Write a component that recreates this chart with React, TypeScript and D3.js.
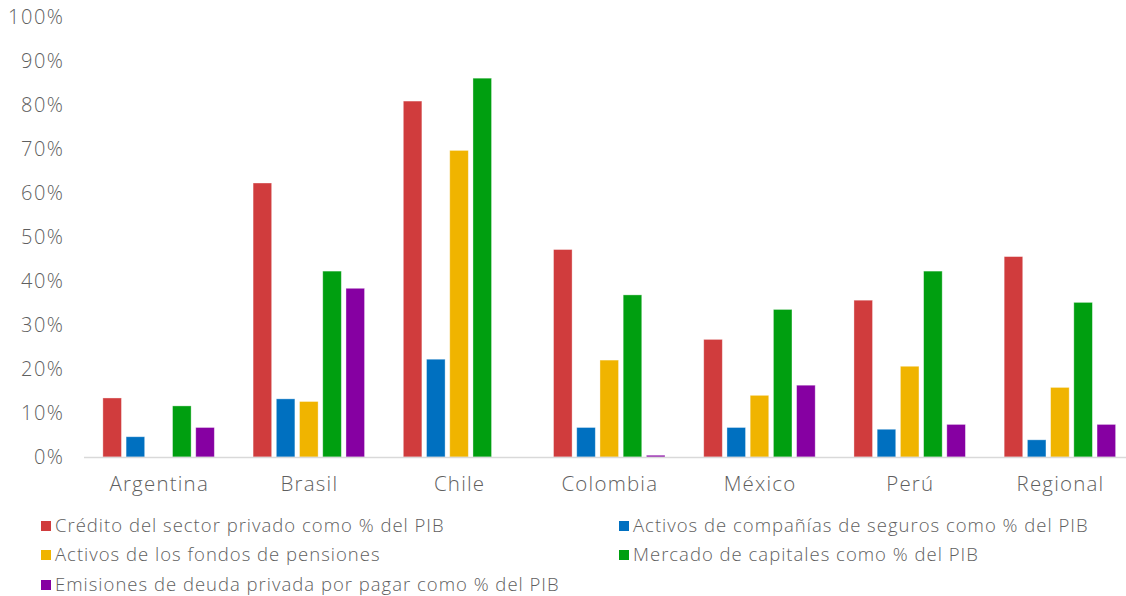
import React from "react";
import * as d3 from "d3";

const categories = ["Argentina", "Brasil", "Chile", "Colombia", "México", "Perú", "Regional"];
const seriesNames = [
  "Crédito del sector privado como % del PIB",
  "Activos de compañías de seguros como % del PIB",
  "Activos de los fondos de pensiones",
  "Mercado de capitales como % del PIB",
  "Emisiones de deuda privada por pagar como % del PIB",
];
const seriesColors = ["#d03c3d", "#0070c0", "#f0b400", "#009f10", "#8600a2"];
const credito = [13.4, 62.2, 80.8, 47.1, 26.7, 35.6, 45.5];
const seguros = [4.6, 13.2, 22.2, 6.7, 6.7, 6.3, 3.9];
const pensiones = [0, 12.6, 69.6, 22.0, 14.0, 20.6, 15.8];
const capitales = [11.6, 42.2, 86.0, 36.8, 33.5, 42.2, 35.1];
const emisiones = [6.7, 38.3, 0, 0.4, 16.3, 7.4, 7.4];
const seriesValues = [credito, seguros, pensiones, capitales, emisiones];
const yTicks = [0, 10, 20, 30, 40, 50, 60, 70, 80, 90, 100];

const W = 1126;
const H = 596;
const FONT = "'Open Sans', Lato, sans-serif";
const TEXT = "#5f5f5f";

export default function App() {
  const x0 = d3
    .scaleBand<string>()
    .domain(categories)
    .range([83.5, 1135])
    .paddingInner(0.258)
    .paddingOuter(0.129);
  const x1 = d3
    .scaleBand<number>()
    .domain(d3.range(seriesNames.length))
    .range([0, x0.bandwidth()])
    .paddingInner(0.2);
  const y = d3.scaleLinear().domain([0, 100]).range([457, 16.5]);

  const legendPos = [
    { x: 41, y: 526 },
    { x: 619, y: 526 },
    { x: 41, y: 555 },
    { x: 619, y: 555 },
    { x: 41, y: 585 },
  ];

  return (
    <svg
      width={W}
      height={H}
      style={{ position: "absolute", left: 0, top: 0, background: "#fff" }}
      fontFamily={FONT}
      fontWeight={300}
    >
      {yTicks.map((t) => (
        <text
          key={t}
          x={64.5}
          y={y(t)}
          dy="0.35em"
          textAnchor="end"
          fontSize={20}
          letterSpacing={1.5}
          fill={TEXT}
        >
          {t}%
        </text>
      ))}
      {categories.map((c, ci) => (
        <g key={c} transform={`translate(${x0(c)},0)`}>
          {seriesValues.map((vals, si) =>
            vals[ci] > 0 ? (
              <rect
                key={si}
                x={x1(si)}
                y={y(vals[ci])}
                width={x1.bandwidth()}
                height={y(0) - y(vals[ci])}
                fill={seriesColors[si]}
                stroke="#ffffff"
                strokeOpacity={0.45}
                strokeWidth={0.8}
              />
            ) : null
          )}
          <text
            x={x0.bandwidth() / 2 + 0.6}
            y={491}
            textAnchor="middle"
            fontSize={20.5}
            letterSpacing={1.2}
            fill={TEXT}
          >
            {c}
          </text>
        </g>
      ))}
      <line x1={84} x2={W} y1={y(0) + 0.5} y2={y(0) + 0.5} stroke="#d9d9d9" strokeWidth={1.5} />
      {seriesNames.map((n, i) => (
        <g key={n} transform={`translate(${legendPos[i].x},${legendPos[i].y})`}>
          <rect x={0} y={-5} width={10} height={10} fill={seriesColors[i]} />
          <text x={14} y={0} dy="0.35em" fontSize={18.5} letterSpacing={1.0} fill={TEXT}>
            {n}
          </text>
        </g>
      ))}
    </svg>
  );
}
